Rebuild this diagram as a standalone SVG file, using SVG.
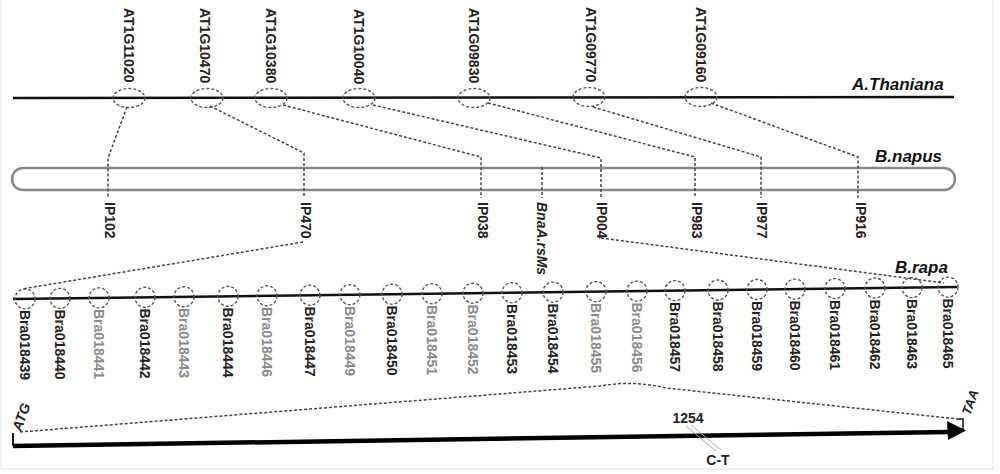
<svg xmlns="http://www.w3.org/2000/svg" width="1000" height="474" viewBox="0 0 1000 474">
<style>
text{font-family:"Liberation Sans",Arial,sans-serif;font-weight:bold;fill:#222}
.lbl{font-size:14px}
.sp{font-size:17px;font-style:italic;fill:#111}
.g{fill:#8a8a8a}
.dash{fill:none;stroke:#444;stroke-width:1.5;stroke-dasharray:3 2}
.ell{fill:none;stroke:#555;stroke-width:1.4;stroke-dasharray:3 2}
.axis{stroke:#111;stroke-width:2.5}
</style>
<rect width="1000" height="474" fill="#fff"/>
<path d="M1 0V469H993V0" fill="none" stroke="#d0d0d0" stroke-width="1" stroke-dasharray="1 1"/>

<g id="thaliana">
<line class="axis" x1="13" y1="98" x2="954" y2="97"/>
<text class="sp" x="852" y="90">A.Thaniana</text>
</g>
<g id="AT1G11020"><ellipse class="ell" cx="129" cy="98" rx="16" ry="9.5"/><text class="lbl" transform="translate(123.5,8) rotate(90)">AT1G11020</text></g>
<g id="AT1G10470"><ellipse class="ell" cx="207" cy="98" rx="16" ry="9.5"/><text class="lbl" transform="translate(200,8) rotate(90)">AT1G10470</text></g>
<g id="AT1G10380"><ellipse class="ell" cx="271" cy="98" rx="16" ry="9.5"/><text class="lbl" transform="translate(266,8) rotate(90)">AT1G10380</text></g>
<g id="AT1G10040"><ellipse class="ell" cx="359" cy="98" rx="16" ry="9.5"/><text class="lbl" transform="translate(354,9) rotate(90)">AT1G10040</text></g>
<g id="AT1G09830"><ellipse class="ell" cx="474" cy="98" rx="16" ry="9.5"/><text class="lbl" transform="translate(469,8) rotate(90)">AT1G09830</text></g>
<g id="AT1G09770"><ellipse class="ell" cx="589" cy="97" rx="16" ry="9.5"/><text class="lbl" transform="translate(586,7) rotate(90)">AT1G09770</text></g>
<g id="AT1G09160"><ellipse class="ell" cx="701" cy="97" rx="16" ry="9.5"/><text class="lbl" transform="translate(696,7) rotate(90)">AT1G09160</text></g>

<g id="napus">
<rect x="12" y="168" width="943" height="22" rx="11" fill="#fff" stroke="#888" stroke-width="2.5"/>
<text class="sp" x="875" y="162">B.napus</text>
</g>
<g id="IP102"><text class="lbl" transform="translate(105,202) rotate(90)">IP102</text></g>
<g id="IP470"><text class="lbl" transform="translate(301,202) rotate(90)">IP470</text></g>
<g id="IP038"><text class="lbl" transform="translate(478,202) rotate(90)">IP038</text></g>
<g id="BnaA.rsMs"><text class="lbl" font-style="italic" fill="#333" transform="translate(537,202) rotate(90)">BnaA.rsMs</text></g>
<g id="IP004"><text class="lbl" transform="translate(597,202) rotate(90)">IP004</text></g>
<g id="IP983"><text class="lbl" transform="translate(692,202) rotate(90)">IP983</text></g>
<g id="IP977"><text class="lbl" transform="translate(757,202) rotate(90)">IP977</text></g>
<g id="IP916"><text class="lbl" transform="translate(856,202) rotate(90)">IP916</text></g>

<g id="rapa">
<line class="axis" x1="13" y1="299" x2="957" y2="287"/>
<text class="sp" x="895" y="273">B.rapa</text>
</g>
<g id="Bra018439"><circle class="ell" cx="25" cy="298.9" r="10"/><text class="lbl" transform="translate(20,310) rotate(90)">Bra018439</text></g>
<g id="Bra018440"><circle class="ell" cx="60" cy="298.4" r="10"/><text class="lbl" transform="translate(55,309.5) rotate(90)">Bra018440</text></g>
<g id="Bra018441"><circle class="ell" cx="99" cy="297.9" r="10"/><text class="lbl g" transform="translate(94,309) rotate(90)">Bra018441</text></g>
<g id="Bra018442"><circle class="ell" cx="145" cy="297.3" r="10"/><text class="lbl" transform="translate(140,308.5) rotate(90)">Bra018442</text></g>
<g id="Bra018443"><circle class="ell" cx="184" cy="296.8" r="10"/><text class="lbl g" transform="translate(179,308) rotate(90)">Bra018443</text></g>
<g id="Bra018444"><circle class="ell" cx="228" cy="296.3" r="10"/><text class="lbl" transform="translate(223,307.5) rotate(90)">Bra018444</text></g>
<g id="Bra018446"><circle class="ell" cx="267" cy="295.8" r="10"/><text class="lbl g" transform="translate(262,307) rotate(90)">Bra018446</text></g>
<g id="Bra018447"><circle class="ell" cx="310" cy="295.2" r="10"/><text class="lbl" transform="translate(305,306.5) rotate(90)">Bra018447</text></g>
<g id="Bra018449"><circle class="ell" cx="350" cy="294.7" r="10"/><text class="lbl g" transform="translate(345,306) rotate(90)">Bra018449</text></g>
<g id="Bra018450"><circle class="ell" cx="392" cy="294.2" r="10"/><text class="lbl" transform="translate(387,305.5) rotate(90)">Bra018450</text></g>
<g id="Bra018451"><circle class="ell" cx="432" cy="293.7" r="10"/><text class="lbl g" transform="translate(427,305) rotate(90)">Bra018451</text></g>
<g id="Bra018452"><circle class="ell" cx="473" cy="293.2" r="10"/><text class="lbl g" transform="translate(468,304.5) rotate(90)">Bra018452</text></g>
<g id="Bra018453"><circle class="ell" cx="512" cy="292.7" r="10"/><text class="lbl" transform="translate(507,304) rotate(90)">Bra018453</text></g>
<g id="Bra018454"><circle class="ell" cx="553" cy="292.1" r="10"/><text class="lbl" transform="translate(548,303.5) rotate(90)">Bra018454</text></g>
<g id="Bra018455"><circle class="ell" cx="596" cy="291.6" r="10"/><text class="lbl g" transform="translate(591,303) rotate(90)">Bra018455</text></g>
<g id="Bra018456"><circle class="ell" cx="637" cy="291.1" r="10"/><text class="lbl g" transform="translate(632,302.5) rotate(90)">Bra018456</text></g>
<g id="Bra018457"><circle class="ell" cx="675" cy="290.6" r="10"/><text class="lbl" fill="#555" transform="translate(670,302) rotate(90)">Bra018457</text></g>
<g id="Bra018458"><circle class="ell" cx="718" cy="290" r="10"/><text class="lbl" transform="translate(713,301.5) rotate(90)">Bra018458</text></g>
<g id="Bra018459"><circle class="ell" cx="757" cy="289.5" r="10"/><text class="lbl" fill="#555" transform="translate(752,301) rotate(90)">Bra018459</text></g>
<g id="Bra018460"><circle class="ell" cx="795" cy="289.1" r="10"/><text class="lbl" transform="translate(790,300.5) rotate(90)">Bra018460</text></g>
<g id="Bra018461"><circle class="ell" cx="835" cy="288.6" r="10"/><text class="lbl" transform="translate(830,300) rotate(90)">Bra018461</text></g>
<g id="Bra018462"><circle class="ell" cx="875" cy="288" r="10"/><text class="lbl" transform="translate(870,299.5) rotate(90)">Bra018462</text></g>
<g id="Bra018463"><circle class="ell" cx="912" cy="287.6" r="10"/><text class="lbl" transform="translate(907,299) rotate(90)">Bra018463</text></g>
<g id="Bra018465"><circle class="ell" cx="948" cy="287.1" r="10"/><text class="lbl" transform="translate(943,298.5) rotate(90)">Bra018465</text></g>

<g id="connectors">
<path class="dash" d="M127 107L108 158V198"/>
<path class="dash" d="M210 106L304 153V198"/>
<path class="dash" d="M283 105L481 157V198"/>
<path class="dash" d="M373 105L601 158V198"/>
<path class="dash" d="M488 103L695 157V198"/>
<path class="dash" d="M593 107L761 157V198"/>
<path class="dash" d="M711 103L858 157V198"/>
<path class="dash" d="M542 167V198"/>
<path class="dash" d="M303 242L22 289"/>
<path class="dash" d="M601 238L944 283"/>
<path class="dash" d="M20 432L600 386Q633 380 666 388L958 419"/>
</g>

<g id="gene">
<path d="M13 433V446" stroke="#111" stroke-width="2" fill="none"/>
<path d="M958 419H963V432" stroke="#111" stroke-width="1.5" fill="none"/>
<line x1="13" y1="446" x2="950" y2="432" stroke="#000" stroke-width="4.5"/>
<polygon points="966,430.5 947,421 948,440" fill="#000"/>
<text font-size="14" font-style="italic" transform="translate(21,432) rotate(-70)">ATG</text>
<text font-size="13" font-style="italic" transform="translate(970,416) rotate(-70)">TAA</text>
</g>
<g id="snp">
<line x1="686" y1="426" x2="716" y2="451" stroke="#aaa" stroke-width="1"/>
<line x1="691" y1="425" x2="721" y2="450" stroke="#aaa" stroke-width="1"/>
<text font-size="14" x="688" y="423" text-anchor="middle">1254</text>
<text font-size="14" x="718" y="465" text-anchor="middle">C-T</text>
</g>
</svg>
